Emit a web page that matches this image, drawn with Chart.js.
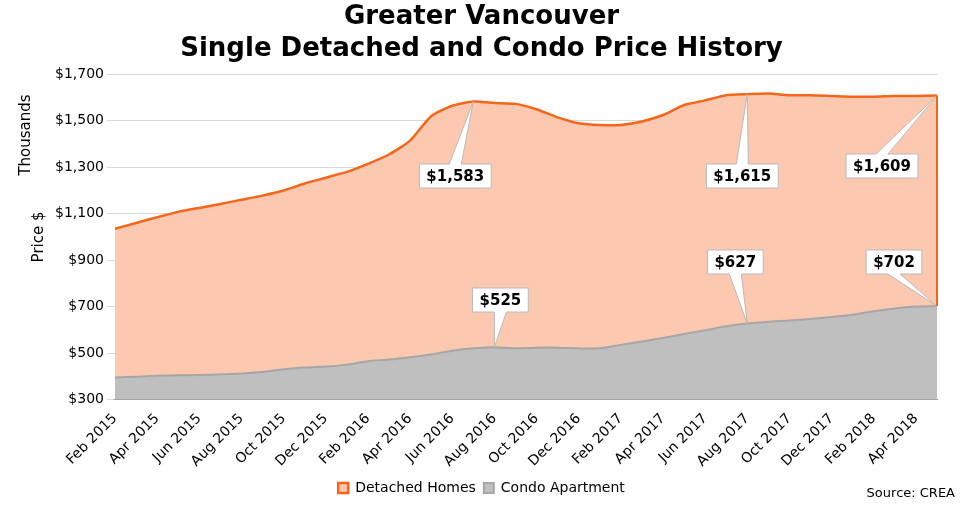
<!DOCTYPE html>
<html><head><meta charset="utf-8">
<script src="https://cdn.jsdelivr.net/npm/chart.js@4"></script>
<style>body{margin:0;background:#fff}#w{width:977px;height:505px;position:relative}</style>
</head><body><div id="w"><canvas id="c"></canvas></div>
<script>
const months=["Jan","Feb","Mar","Apr","May","Jun","Jul","Aug","Sep","Oct","Nov","Dec"];
const categories=[];for(let i=0;i<40;i++){const m=(1+i)%12,y=2015+Math.floor((1+i)/12);categories.push(months[m]+" "+y);}
const detached=[1035,1060,1085,1108,1125,1142,1160,1178,1200,1230,1255,1280,1315,1355,1415,1520,1565,1583,1577,1573,1550,1515,1490,1482,1482,1497,1525,1568,1588,1610,1615,1618,1610,1610,1607,1604,1604,1607,1607,1609];
const condo=[395,398,402,404,405,408,412,418,430,438,442,450,465,472,482,494,510,520,525,520,523,523,520,520,535,550,565,582,598,615,627,635,640,647,655,665,680,692,700,702];
const yTicks=[300,500,700,900,1100,1300,1500,1700];
// callouts: [series, index, box x offset, box center y]
const callouts=[["d",17,-18,176],["d",30,-5,176],["d",39,-55,166],["c",18,6,300],["c",30,-12,262],["c",39,-43,262]];
const F="'DejaVu Sans', Verdana, sans-serif";
const calloutPlugin={id:"co",afterDatasetsDraw(ch){
 const ctx=ch.ctx,x=ch.scales.x,y=ch.scales.y;
 ctx.save();ctx.font="bold 15px "+F;
 callouts.forEach(([s,i,dx,boxCy])=>{
  const v=(s==="d"?detached:condo)[i];
  const px=x.getPixelForValue(i),py=y.getPixelForValue(v);
  const txt="$"+v.toLocaleString("en-US");
  const w=ctx.measureText(txt).width+14,h=24;
  const boxCx=px+dx;
  const l=boxCx-w/2,t=boxCy-h/2;
  ctx.fillStyle="#fff";ctx.strokeStyle="#bbb";ctx.lineWidth=1;
  ctx.beginPath();ctx.moveTo(l,t);
  if(s==="d"){ctx.lineTo(boxCx-6,t);ctx.lineTo(px,py);ctx.lineTo(boxCx+6,t);}
  ctx.lineTo(l+w,t);ctx.lineTo(l+w,t+h);
  if(s==="c"){ctx.lineTo(boxCx+6,t+h);ctx.lineTo(px,py);ctx.lineTo(boxCx-6,t+h);}
  ctx.lineTo(l,t+h);ctx.closePath();ctx.fill();ctx.stroke();
  ctx.fillStyle="#000";ctx.textAlign="center";ctx.textBaseline="middle";
  ctx.fillText(txt,boxCx,boxCy+1);
 });
 // right edge drop line
 const ex=x.getPixelForValue(39);
 ctx.strokeStyle="#F4661B";ctx.lineWidth=2;ctx.beginPath();ctx.moveTo(ex,y.getPixelForValue(detached[39]));ctx.lineTo(ex,y.getPixelForValue(condo[39]));ctx.stroke();
 ctx.font="13px "+F;ctx.textAlign="right";ctx.fillStyle="#000";ctx.fillText("Source: CREA",955,494);
 ctx.save();ctx.translate(26,135);ctx.rotate(-Math.PI/2);ctx.textAlign="center";ctx.textBaseline="middle";ctx.font="15px "+F;ctx.fillText("Thousands",0,0);ctx.restore();
 ctx.restore();}};
new Chart(document.getElementById("c"),{type:"line",
 data:{labels:categories,datasets:[
  {label:"Condo Apartment",data:condo,fill:"origin",backgroundColor:"#BFBFBF",borderColor:"#A6A6A6",borderWidth:2,pointRadius:0,tension:0.2,order:0},
  {label:"Detached Homes",data:detached,fill:"origin",backgroundColor:"#FCC8B0",borderColor:"#F4661B",borderWidth:2.5,pointRadius:0,tension:0.2,order:1}]},
 options:{responsive:true,maintainAspectRatio:false,animation:false,
  layout:{padding:{left:26,right:40,top:2,bottom:0}},
  plugins:{title:{display:true,text:["Greater Vancouver","Single Detached and Condo Price History"],font:{family:F,size:26,weight:"bold"},color:"#000",padding:{top:0,bottom:10},lineHeight:1.15},
   legend:{position:"bottom",reverse:true,labels:{font:{family:F,size:14},color:"#000",boxWidth:10,boxHeight:10,padding:8}},tooltip:{enabled:false}},
  scales:{x:{grid:{display:false},border:{color:"#999"},offset:false,
    ticks:{autoSkip:false,maxRotation:45,minRotation:45,font:{family:F,size:14},color:"#000",callback:(v,i)=>i%2===0?categories[i]:""}},
   y:{min:300,max:1700,afterBuildTicks:a=>{a.ticks=yTicks.map(v=>({value:v}));},grid:{color:"#D9D9D9"},border:{display:false},
    title:{display:true,text:"Price $",font:{family:F,size:15},color:"#000"},
    ticks:{font:{family:F,size:14},color:"#000",callback:v=>"$"+v.toLocaleString("en-US")}}}},
 plugins:[calloutPlugin]});
</script></body></html>
